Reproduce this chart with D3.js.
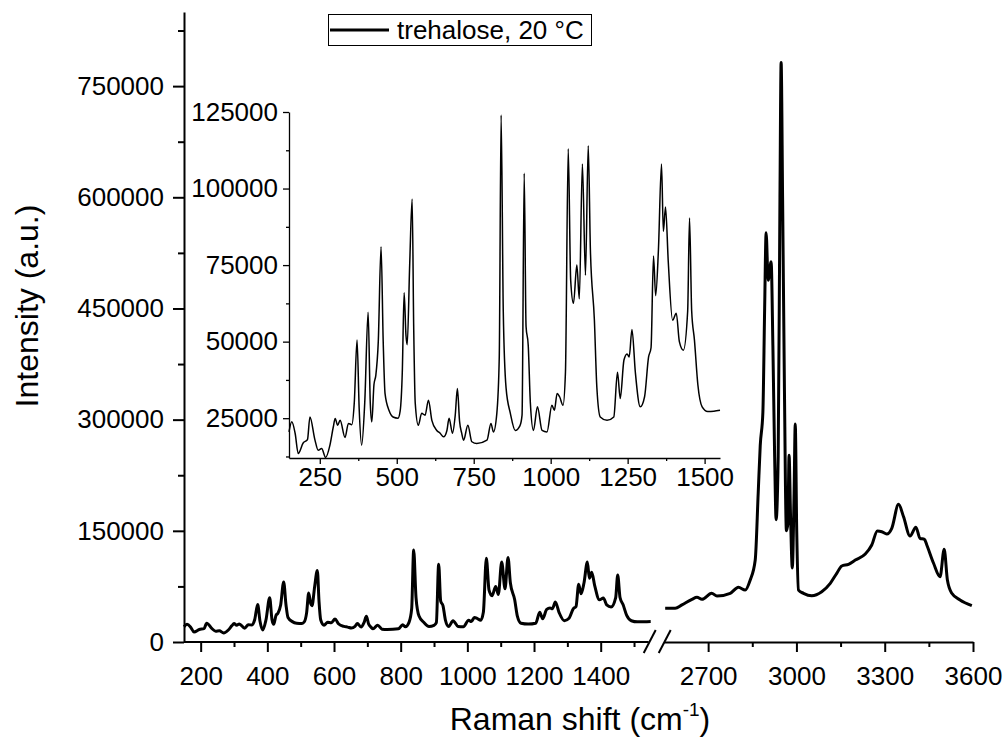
<!DOCTYPE html>
<html>
<head>
<meta charset="utf-8">
<script src="https://cdn.jsdelivr.net/npm/d3@7"></script>
<style>
  body { margin: 0; background: #fff; }
  svg { display: block; font-family: "Liberation Sans", Arial, sans-serif; }
</style>
</head>
<body>
<svg id="chart" width="1008" height="748"></svg>
<script>
// Raman spectrum of trehalose, 20 °C
const lowShift = [150, 159, 170, 180, 196, 210, 218, 234, 245, 256, 269, 283, 294, 300, 308, 316, 332, 343, 354, 362,
    371, 378, 386, 396, 407, 414, 419, 426, 432, 440, 449, 456, 462, 475, 488, 504, 511, 518, 524, 530,
    534, 542, 550, 555, 560, 570, 581, 592, 603, 614, 630, 641, 652, 663, 670, 681, 690, 697, 704, 711,
    717, 731, 744, 760, 793, 806, 814, 825, 833, 839, 846, 855, 869, 885, 900, 907, 914, 920, 927, 934,
    944, 957, 972, 988, 1004, 1012, 1021, 1029, 1040, 1048, 1057, 1065, 1074, 1085, 1093, 1103, 1113, 1122, 1129, 1142,
    1150, 1161, 1183, 1205, 1217, 1226, 1238, 1248, 1255, 1264, 1275, 1291, 1305, 1318, 1326, 1334, 1341, 1350, 1360, 1366,
    1373, 1382, 1396, 1408, 1418, 1431, 1445, 1451, 1458, 1467, 1478, 1492, 1510, 1530, 1550];
const lowIntensity = [20500, 23800, 20000, 13500, 16900, 18000, 25400, 18000, 14500, 15100, 12200, 16200, 22200, 24900, 22700, 24300, 18700, 23300, 22900, 30000,
    50500, 28000, 16200, 30000, 59600, 30000, 23800, 36000, 39000, 50000, 81000, 50000, 33000, 27500, 25400, 25000, 27300, 40000, 66000, 52000,
    49000, 75000, 96600, 55000, 30000, 22700, 26600, 26000, 30900, 24300, 21000, 20100, 18900, 21000, 25000, 20100, 26000, 34700, 24000, 20100,
    17800, 22700, 17300, 16700, 17800, 23300, 20500, 26500, 45000, 124000, 60000, 35000, 26600, 21000, 22500, 26000, 105000, 55000, 48900, 30000,
    21000, 28700, 21000, 20500, 29200, 27600, 33100, 32000, 29200, 40000, 113000, 70000, 62500, 75000, 64000, 108000, 71700, 114000, 80000, 57000,
    35000, 25400, 24300, 25400, 40000, 31400, 44000, 46000, 45000, 54000, 40000, 28700, 32000, 45000, 48000, 78000, 65000, 80000, 108000, 86000,
    94000, 76000, 57000, 59300, 50000, 47200, 60000, 90400, 60000, 50500, 36000, 28700, 27200, 27300, 27600];

const highShift = [2554, 2588, 2611, 2645, 2662, 2679, 2712, 2730, 2775, 2803, 2826, 2843, 2860, 2870, 2877, 2886, 2892, 2897, 2904, 2914,
    2920, 2926, 2931, 2938, 2944, 2948, 2953, 2959, 2966, 2971, 2975, 2980, 2986, 2992, 2996, 3001, 3007, 3024, 3052, 3086,
    3115, 3137, 3154, 3177, 3200, 3234, 3256, 3275, 3290, 3307, 3324, 3347, 3364, 3386, 3406, 3420, 3435, 3443, 3466, 3488,
    3502, 3513, 3528, 3556, 3596];
const highIntensity = [45400, 45400, 50000, 57600, 60300, 57600, 65700, 62000, 65700, 73800, 70100, 83600, 110600, 200000, 265000, 310000, 450000, 552000, 488000, 513000,
    400000, 250000, 165000, 250000, 600000, 782000, 600000, 350000, 150000, 160000, 252000, 170000, 100000, 200000, 294000, 150000, 70100, 65700, 62500, 67900,
    79200, 92700, 102500, 104800, 110600, 118700, 130900, 149700, 148800, 145700, 153400, 185700, 169000, 143000, 154700, 139900, 138500, 130900, 106200, 88100,
    125000, 83600, 65700, 56700, 49000];

// tick labels
const lowTicks = [200, 400, 600, 800, 1000, 1200, 1400];
const lowMinor = [300, 500, 700, 900, 1100, 1300, 1500];
const highTicks = [2700, 3000, 3300, 3600];
const highMinor = [2850, 3150, 3450];
const yTicks = [0, 150000, 300000, 450000, 600000, 750000];
const yMinor = [75000, 225000, 375000, 525000, 675000, 825000];
const insetXTicks = [250, 500, 750, 1000, 1250, 1500];
const insetXMinor = [375, 625, 875, 1125, 1375];
const insetYTicks = [25000, 50000, 75000, 100000, 125000];
const insetYMinor = [12500, 37500, 62500, 87500, 112500];

const legendLabel = "trehalose, 20 °C";

const svg = d3.select("#chart");
const lowData = lowShift.map((d, i) => [d, lowIntensity[i]]);
const highData = highShift.map((d, i) => [d, highIntensity[i]]);

// main plot scales, broken x axis
const y = d3.scaleLinear().domain([0, 850000]).range([642, 12]);
const xLow = d3.scaleLinear().domain([150, 1550]).range([184, 650.7]);
const xHigh = d3.scaleLinear().domain([2550, 3600]).range([664, 973]);

// inset scales
const ix = d3.scaleLinear().domain([150, 1550]).range([289, 720]);
const iy = d3.scaleLinear().domain([12000, 125000]).range([458, 112]);

function drawAxis(g, axisFn, scale, major, minor, bigTick, smallTick, pad, width) {
    const a = g.append("g").call(axisFn(scale).tickValues(major).tickSize(bigTick)
        .tickSizeOuter(0).tickPadding(pad).tickFormat(d3.format("d")));
    a.select(".domain").attr("stroke-width", width);
    a.selectAll(".tick line").attr("stroke-width", width);
    a.selectAll("text").attr("font-size", 26).attr("fill", "#000");
    const m = g.append("g").call(axisFn(scale).tickValues(minor).tickSize(smallTick).tickFormat(""));
    m.select(".domain").remove();
    m.selectAll(".tick line").attr("stroke-width", width);
    return a;
}

// main axes
const gxLow = svg.append("g").attr("transform", "translate(0,642)");
drawAxis(gxLow, d3.axisBottom, xLow, lowTicks, lowMinor, 10, 5, 15, 2);
gxLow.select(".domain").attr("d", `M${xLow.range()[0]},0H${xLow.range()[1] - 2}`);
const gxHigh = svg.append("g").attr("transform", "translate(0,642)");
drawAxis(gxHigh, d3.axisBottom, xHigh, highTicks, highMinor, 10, 5, 15, 2);
const gy = svg.append("g").attr("transform", "translate(184,0)");
drawAxis(gy, d3.axisLeft, y, yTicks, yMinor, 11, 6, 9, 2);

// axis break marks
const bx = xLow.range()[1];
[[bx - 7, bx + 5], [bx + 8, bx + 20]].forEach(p => {
    svg.append("line").attr("x1", p[0]).attr("y1", 653).attr("x2", p[1]).attr("y2", 630)
        .attr("stroke", "#000").attr("stroke-width", 2);
});

// main spectrum
const mainLine = (xs) => d3.line().x(d => xs(d[0])).y(d => y(d[1])).curve(d3.curveMonotoneX);
svg.append("path").datum(lowData).attr("d", mainLine(xLow))
    .attr("fill", "none").attr("stroke", "#000").attr("stroke-width", 3).attr("stroke-linejoin", "round");
svg.append("path").datum(highData).attr("d", mainLine(xHigh))
    .attr("fill", "none").attr("stroke", "#000").attr("stroke-width", 3).attr("stroke-linejoin", "round");

// inset
const gix = svg.append("g").attr("transform", "translate(0,458)");
drawAxis(gix, d3.axisBottom, ix, insetXTicks, insetXMinor, 6, 3, 4, 1.3);
const giy = svg.append("g").attr("transform", "translate(289,0)");
drawAxis(giy, d3.axisLeft, iy, insetYTicks, insetYMinor, 6, 3, 5, 1.3);

svg.append("path").datum(lowData)
    .attr("d", d3.line().x(d => ix(d[0])).y(d => iy(d[1])).curve(d3.curveMonotoneX))
    .attr("fill", "none").attr("stroke", "#000").attr("stroke-width", 1.5).attr("stroke-linejoin", "round");

// axis titles
const xt = svg.append("text").attr("x", 580).attr("y", 730).attr("text-anchor", "middle")
    .attr("font-size", 32);
xt.append("tspan").text("Raman shift (cm");
xt.append("tspan").attr("font-size", 19).attr("dy", -14).text("-1");
xt.append("tspan").attr("dy", 14).text(")");
svg.append("text").attr("transform", "translate(38,306) rotate(-90)")
    .attr("text-anchor", "middle").attr("font-size", 32).text("Intensity (a.u.)");

// legend
const lg = svg.append("g");
lg.append("rect").attr("x", 328.5).attr("y", 14.5).attr("width", 263).attr("height", 31)
    .attr("fill", "#fff").attr("stroke", "#000").attr("stroke-width", 1);
lg.append("line").attr("x1", 330).attr("x2", 389).attr("y1", 30).attr("y2", 30)
    .attr("stroke", "#000").attr("stroke-width", 3);
lg.append("text").attr("x", 397).attr("y", 39).attr("font-size", 26).text(legendLabel);
</script>
</body>
</html>
